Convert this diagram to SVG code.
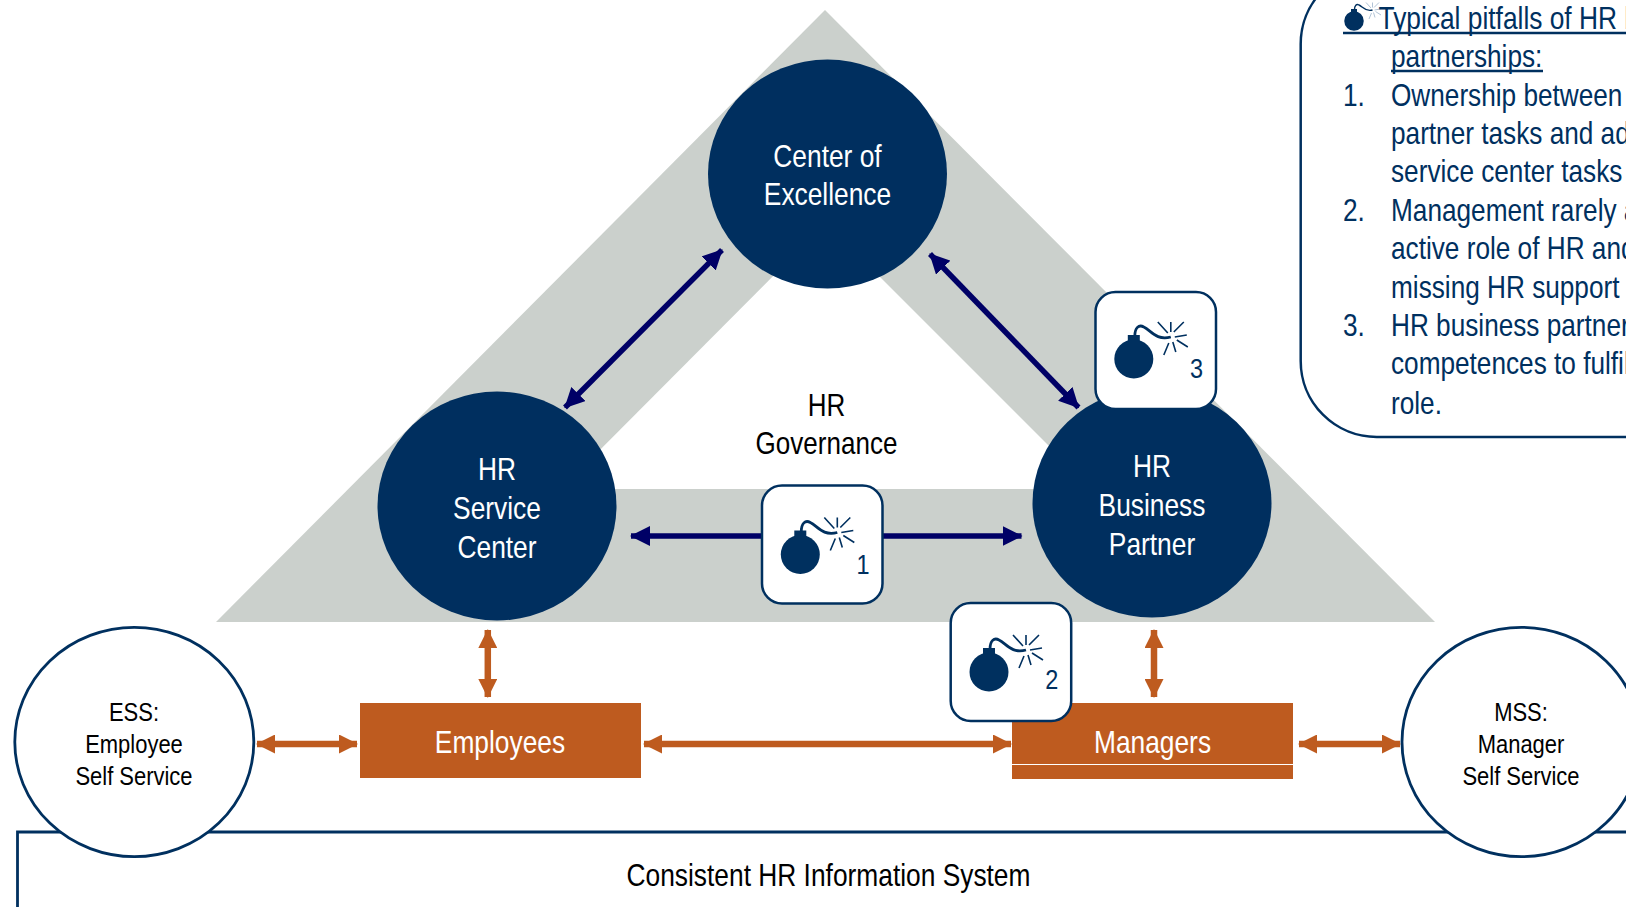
<svg xmlns="http://www.w3.org/2000/svg" width="1626" height="907" viewBox="0 0 1626 907">
<style>
text{font-family:"Liberation Sans",Arial,sans-serif;text-anchor:middle}
.hub{fill:#002f5f}
.w{fill:#fff;font-size:31px}
.k{fill:#000;font-size:31px}
.s{fill:#000;font-size:26px}
.p{fill:#00305f;font-size:31px;text-anchor:start}
.n{fill:#00305f;font-size:28px}
.ln{stroke:#00305f;stroke-width:2.8;fill:#fff}
.card{fill:#fff;stroke:#00305f;stroke-width:2.5}
.org{fill:#be5b1f}
.a-n{stroke:#000066;stroke-width:5.5;fill:none}
.a-o{stroke:#be5b1f;stroke-width:6.5;fill:none}
.ul{stroke:#00305f;stroke-width:2.5}
</style>
<defs>
<marker id="hn" viewBox="0 0 20 20" refX="19" refY="10" markerWidth="20" markerHeight="20" markerUnits="userSpaceOnUse" orient="auto-start-reverse"><path d="M0 0L20 10L0 20Z" fill="#000066"/></marker>
<marker id="ho" viewBox="0 0 19 19" refX="18" refY="9.5" markerWidth="19" markerHeight="19" markerUnits="userSpaceOnUse" orient="auto-start-reverse"><path d="M0 0L19 9.500L0 19Z" fill="#be5b1f"/></marker>
<g id="bomb-body">
<circle cx="0" cy="0" r="19.5" fill="#00305f"/>
<rect x="-6" y="-24" width="12" height="8" fill="#00305f"/>
<path d="M1 -23C1 -31 5 -35 10 -32C17 -29 22 -18 37 -22" fill="none" stroke="#00305f" stroke-width="2.8"/>
</g>
<path id="bomb-rays" d="M24 -37L34 -26M37 -37L37 -27M50 -37L40 -27M53 -24L41 -22M54 -12L43 -19M42 -7L39 -17M30 -4L35 -16" fill="none" stroke-width="1.6"/>
</defs>

<g id="governance-triangle">
<path d="M825 10L1435 622L216 622Z" fill="#cbd0cc"/>
<path d="M826 223L1092 489L561 489Z" fill="#fff"/>
</g>

<g id="system-box">
<path d="M17.5 907V832H1640" fill="none" stroke="#00305f" stroke-width="2.8"/>
<g transform="translate(828.5 885.500) scale(.85 1)"><text class="k">Consistent HR Information System</text></g>
</g>

<g id="hr-governance-label">
<g transform="translate(826.5 415.500) scale(.84 1)"><text class="k">HR</text></g>
<g transform="translate(826.5 453.500) scale(.84 1)"><text class="k">Governance</text></g>
</g>

<g id="center-of-excellence" transform="translate(827.5 174)">
<ellipse class="hub" rx="119.5" ry="114.5"/>
<g transform="translate(0 -7) scale(.85 1)"><text class="w">Center of</text></g>
<g transform="translate(0 31) scale(.85 1)"><text class="w">Excellence</text></g>
</g>

<g id="hr-service-center" transform="translate(497 506)">
<ellipse class="hub" rx="119.5" ry="114.5"/>
<g transform="translate(0 -26) scale(.85 1)"><text class="w">HR</text></g>
<g transform="translate(0 12.500) scale(.85 1)"><text class="w">Service</text></g>
<g transform="translate(0 52) scale(.85 1)"><text class="w">Center</text></g>
</g>

<g id="hr-business-partner" transform="translate(1152 503)">
<ellipse class="hub" rx="119.5" ry="114.5"/>
<g transform="translate(0 -26) scale(.85 1)"><text class="w">HR</text></g>
<g transform="translate(0 12.500) scale(.85 1)"><text class="w">Business</text></g>
<g transform="translate(0 52) scale(.85 1)"><text class="w">Partner</text></g>
</g>

<g id="employees">
<rect class="org" x="360" y="703" width="281" height="75"/>
<g transform="translate(500 752.500) scale(.85 1)"><text class="w">Employees</text></g>
</g>

<g id="managers">
<rect class="org" x="1012" y="703" width="281" height="76"/>
<rect x="1012" y="764" width="281" height="1" fill="#fff"/>
<g transform="translate(1152.500 753) scale(.85 1)"><text class="w">Managers</text></g>
</g>

<g id="ess">
<ellipse class="ln" cx="134.300" cy="742" rx="119.500" ry="114.700"/>
<g transform="translate(134 720.500) scale(.845 1)"><text class="s">ESS:</text></g>
<g transform="translate(134 752.500) scale(.845 1)"><text class="s">Employee</text></g>
<g transform="translate(134 784.500) scale(.845 1)"><text class="s">Self Service</text></g>
</g>

<g id="mss">
<ellipse class="ln" cx="1521.500" cy="742" rx="119.500" ry="114.700"/>
<g transform="translate(1521 720.500) scale(.845 1)"><text class="s">MSS:</text></g>
<g transform="translate(1521 752.500) scale(.845 1)"><text class="s">Manager</text></g>
<g transform="translate(1521 784.500) scale(.845 1)"><text class="s">Self Service</text></g>
</g>

<g id="connectors">
<line class="a-n" x1="722" y1="250" x2="565" y2="407.500" marker-start="url(#hn)" marker-end="url(#hn)"/>
<line class="a-n" x1="930" y1="254" x2="1078.500" y2="407.500" marker-start="url(#hn)" marker-end="url(#hn)"/>
<line class="a-n" x1="631" y1="536" x2="1021.500" y2="536" marker-start="url(#hn)" marker-end="url(#hn)"/>
<line class="a-o" x1="487.800" y1="630" x2="487.800" y2="697" marker-start="url(#ho)" marker-end="url(#ho)"/>
<line class="a-o" x1="1154" y1="630" x2="1154" y2="697" marker-start="url(#ho)" marker-end="url(#ho)"/>
<line class="a-o" x1="257" y1="744" x2="357" y2="744" marker-start="url(#ho)" marker-end="url(#ho)"/>
<line class="a-o" x1="644" y1="744" x2="1011" y2="744" marker-start="url(#ho)" marker-end="url(#ho)"/>
<line class="a-o" x1="1299" y1="744" x2="1400" y2="744" marker-start="url(#ho)" marker-end="url(#ho)"/>
</g>

<g id="pitfall-1" transform="translate(762 485.500)">
<rect class="card" width="120.500" height="118" rx="20"/>
<use href="#bomb-body" x="38.300" y="69"/><use href="#bomb-rays" x="38.300" y="69" stroke="#00305f"/>
<g transform="translate(101 88) scale(.84 1)"><text class="n">1</text></g>
</g>
<g id="pitfall-2" transform="translate(950.700 603)">
<rect class="card" width="120.500" height="118" rx="20"/>
<use href="#bomb-body" x="38.300" y="69"/><use href="#bomb-rays" x="38.300" y="69" stroke="#00305f"/>
<g transform="translate(101 86) scale(.84 1)"><text class="n">2</text></g>
</g>
<g id="pitfall-3" transform="translate(1095.500 292)">
<rect class="card" width="120.500" height="117" rx="20"/>
<use href="#bomb-body" x="38.300" y="67"/><use href="#bomb-rays" x="38.300" y="67" stroke="#00305f"/>
<g transform="translate(101 86) scale(.84 1)"><text class="n">3</text></g>
</g>

<g id="pitfalls-panel">
<rect x="1300.700" y="-32" width="500" height="469" rx="76" fill="#fff" stroke="#00305f" stroke-width="2.500"/>
<g transform="translate(1354 21) scale(.5)"><use href="#bomb-body"/><use href="#bomb-rays" stroke="#9db4cc"/></g>
<line class="ul" x1="1343" y1="33" x2="1626" y2="33"/>
<line class="ul" x1="1391" y1="71" x2="1543" y2="71"/>
<g transform="translate(1378.500 29) scale(.85 1)"><text class="p">Typical pitfalls of HR b</text></g>
<g transform="translate(1391 0) scale(.845 1)">
<text class="p" y="67">partnerships:</text>
<text class="p" y="106">Ownership between</text>
<text class="p" y="144">partner tasks and ad</text>
<text class="p" y="182">service center tasks</text>
<text class="p" y="221">Management rarely a</text>
<text class="p" y="259">active role of HR and</text>
<text class="p" y="298">missing HR support</text>
<text class="p" y="336">HR business partner</text>
<text class="p" y="374">competences to fulfil</text>
<text class="p" y="414">role.</text>
</g>
<g transform="translate(1343 0) scale(.845 1)">
<text class="p" y="106">1.</text>
<text class="p" y="221">2.</text>
<text class="p" y="336">3.</text>
</g>
</g>
</svg>
